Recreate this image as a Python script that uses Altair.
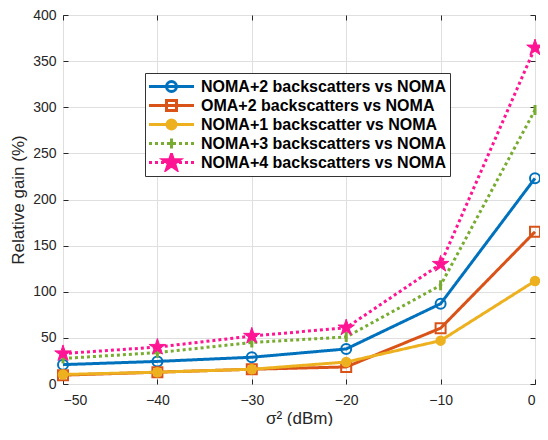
import re
import altair as alt
import pandas as pd

# ---- data ----
sigma2 = [-50, -40, -30, -20, -10, 0]
series_names = [
    "NOMA+2 backscatters vs NOMA",
    "OMA+2 backscatters vs NOMA",
    "NOMA+1 backscatter vs NOMA",
    "NOMA+3 backscatters vs NOMA",
    "NOMA+4 backscatters vs NOMA",
]
noma2 = [21, 24.5, 29, 38, 87, 223]
oma2 = [9.6, 12.8, 16, 18.5, 60.5, 165]
noma1 = [10.3, 12.8, 16, 23.8, 47, 111.7]
noma3 = [27.7, 34, 45, 51, 107, 297]
noma4 = [33, 40, 52, 61, 130, 364.5]
x_ticks = [-50, -40, -30, -20, -10, 0]
y_ticks = [0, 50, 100, 150, 200, 250, 300, 350, 400]

# ---- styles ----
colors = ["#0072BD", "#D95319", "#EDB120", "#77AC30", "#FF1493"]
fills = ["transparent", "transparent", "#EDB120", "transparent", "#FF1493"]
dashes = [[1, 0], [1, 0], [1, 0], [3, 3], [3, 3]]

STAR = ("M0,-1L0.2245,-0.309L0.951,-0.309L0.363,0.118L0.588,0.809L0,0.382"
        "L-0.588,0.809L-0.363,0.118L-0.951,-0.309L-0.2245,-0.309Z")


def circ(r):
    return f"M{r:.4f},0A{r:.4f},{r:.4f} 0 1,1 {-r:.4f},0A{r:.4f},{r:.4f} 0 1,1 {r:.4f},0Z"


def scaled_star(k):
    return re.sub(r"-?\d+\.?\d*", lambda m: f"{float(m.group()) * k:.4f}", STAR)


# plot markers (unit = sqrt(size)/2)
marker_shapes = [circ(1), "M-1,-1L1,-1L1,1L-1,1Z", circ(1), "M0,-1L0,1", STAR]
marker_sizes = [100, 100, 72, 100, 300]
marker_sw = [2, 2, 2, 3, 1]

# legend symbols: line + marker; legend symbolSize 256 -> unit 8 px
U = 8.0
HALF = 22.5 / U


def dotted():
    segs = []
    p = -HALF
    step = 3 / U
    while p < HALF - 1e-6:
        segs.append(f"M{p:.4f},0L{min(p + step, HALF):.4f},0")
        p += 2 * step
    return "".join(segs)


solid = f"M{-HALF:.4f},0L{HALF:.4f},0"
s5 = 5 / U
legend_shapes = [
    solid + circ(5 / U),
    solid + f"M{-s5:.4f},{-s5:.4f}L{s5:.4f},{-s5:.4f}L{s5:.4f},{s5:.4f}L{-s5:.4f},{s5:.4f}Z",
    solid + circ(4.5 / U),
    dotted() + f"M0,{-s5:.4f}L0,{s5:.4f}",
    dotted() + scaled_star(8.5 / U),
]

rows = []
for name, vals in zip(series_names, [noma2, oma2, noma1, noma3, noma4]):
    for xv, yv in zip(sigma2, vals):
        rows.append({"sigma2": xv, "gain": yv, "series": name})
df = pd.DataFrame(rows)

xs = alt.Scale(domain=[-50, 0], nice=False)
ys = alt.Scale(domain=[0, 400], nice=False)
TICK = dict(ticks=True, tickSize=5, offset=-5, domain=False)

x_main = alt.X("sigma2:Q", scale=xs, axis=alt.Axis(values=x_ticks, title="σ² (dBm)", format="d",
                                                   orient="bottom", **TICK))
y_main = alt.Y("gain:Q", scale=ys, axis=alt.Axis(values=y_ticks, title="Relative gain (%)",
                                                 orient="left", **TICK))
x_none = alt.X("sigma2:Q", scale=xs, axis=None)
y_none = alt.Y("gain:Q", scale=ys, axis=None)
x_top = alt.X("sigma2:Q", scale=xs, axis=alt.Axis(values=x_ticks, title=None, orient="top",
                                                  labels=False, grid=False, **TICK))
y_right = alt.Y("gain:Q", scale=ys, axis=alt.Axis(values=y_ticks, title=None, orient="right",
                                                  labels=False, grid=False, **TICK))

base = alt.Chart(df)
layers = []
for i, name in enumerate(series_names):
    sub = base.transform_filter(alt.datum.series == name)
    xe, ye = (x_main, y_main) if i == 0 else (x_none, y_none)
    layers.append(sub.mark_line(stroke=colors[i], strokeWidth=3, strokeDash=dashes[i],
                                strokeCap="butt").encode(x=xe, y=ye))
    layers.append(sub.mark_point(shape=marker_shapes[i], size=marker_sizes[i],
                                 stroke=colors[i], fill=fills[i], strokeWidth=marker_sw[i],
                                 opacity=1).encode(x=x_none, y=y_none))

legend_layer = base.transform_filter("datum.gain > 100000").mark_point(
    strokeWidth=3, opacity=1
).encode(
    x=x_top, y=y_right,
    stroke=alt.Stroke("series:N", scale=alt.Scale(domain=series_names, range=colors), title=None),
    fill=alt.Fill("series:N", scale=alt.Scale(domain=series_names, range=fills), title=None),
    shape=alt.Shape("series:N", scale=alt.Scale(domain=series_names, range=legend_shapes), title=None),
)

chart = alt.layer(*layers, legend_layer).resolve_axis(
    x="independent", y="independent"
).properties(
    width=472, height=369,
    autosize=alt.AutoSizeParams(type="none"),
    padding={"left": 55, "top": 7, "right": 5, "bottom": 42},
).configure_view(
    stroke="#262626", strokeWidth=1
).configure_axis(
    labelFont="Liberation Sans", labelFontSize=14, labelColor="#262626",
    titleFont="Liberation Sans", titleFontSize=17, titleFontWeight="normal", titleColor="#262626",
    domainColor="#262626", tickColor="#262626",
    gridColor="#dfdfdf", gridOpacity=1, labelPadding=7,
).configure_axisX(titlePadding=3, labelPadding=9).configure_axisY(titlePadding=5).configure_legend(
    orient="none", legendX=82, legendY=58,
    labelFont="Liberation Sans", labelFontSize=16, labelFontWeight="bold", labelColor="#000000",
    symbolSize=256, symbolStrokeWidth=3, symbolOffset=13, labelOffset=20,
    strokeColor="#333333", fillColor="#ffffff", padding=4, rowPadding=0, clipHeight=19,
    labelLimit=400,
)

chart.save("out.html", embed_options={"renderer": "svg", "actions": False})
